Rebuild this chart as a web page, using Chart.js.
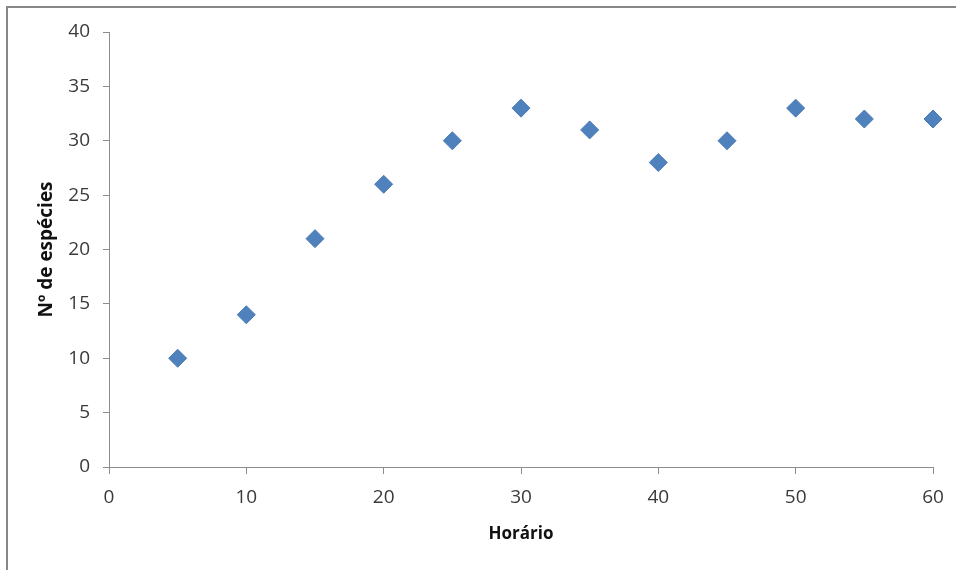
<!DOCTYPE html>
<html>
<head>
<meta charset="utf-8">
<script src="https://cdn.jsdelivr.net/npm/chart.js@4"></script>
<style>
  html, body { margin: 0; padding: 0; background: #fff; }
  #wrap { width: 956px; height: 570px; position: relative; }
</style>
</head>
<body>
<div id="wrap"><canvas id="c" width="956" height="570"></canvas></div>
<script>
// Observation time (minutes) and cumulative species count
const horario = [5, 10, 15, 20, 25, 30, 35, 40, 45, 50, 55, 60];
const especies = [10, 14, 21, 26, 30, 33, 31, 28, 30, 33, 32, 32];
const xTicks = [0, 10, 20, 30, 40, 50, 60];
const yTicks = [0, 5, 10, 15, 20, 25, 30, 35, 40];

const points = horario.map((x, i) => ({ x: x, y: especies[i] }));
const AXIS = '#8c8c8c';
const FONT = "'Open Sans', 'Liberation Sans', sans-serif";

// Frame lines along the top and left edge of the figure
const framePlugin = {
  id: 'frame',
  beforeDraw(chart) {
    const ctx = chart.ctx;
    ctx.save();
    ctx.strokeStyle = '#878787';
    ctx.lineWidth = 2;
    ctx.beginPath();
    ctx.moveTo(7, 570);
    ctx.lineTo(7, 7);
    ctx.lineTo(956, 7);
    ctx.stroke();
    ctx.restore();
  }
};

new Chart(document.getElementById('c'), {
  type: 'scatter',
  data: {
    datasets: [{
      data: points,
      pointStyle: 'rectRot',
      pointRadius: 9,
      pointHoverRadius: 9,
      backgroundColor: '#4f81bd',
      borderColor: '#4a7ab5',
      borderWidth: 1,
      clip: false
    }]
  },
  plugins: [framePlugin],
  options: {
    responsive: false,
    animation: false,
    events: [],
    layout: { padding: { left: 0, top: 32, right: 23, bottom: 0 } },
    plugins: { legend: { display: false }, tooltip: { enabled: false } },
    scales: {
      x: {
        type: 'linear',
        min: 0, max: 60,
        afterBuildTicks(s) { s.ticks = xTicks.map(v => ({ value: v })); },
        afterFit(s) { s.height = 103; },
        grid: { drawOnChartArea: false, drawTicks: true, tickLength: 7, color: AXIS, lineWidth: 1 },
        border: { color: AXIS, width: 1 },
        ticks: { color: '#3a3a3a', font: { family: FONT, size: 19 }, padding: 12, maxRotation: 0 },
        title: {
          display: true, text: 'Horário', color: '#111',
          font: { family: FONT, size: 17, weight: 'bold' },
          padding: { top: 0, bottom: 26 }
        }
      },
      y: {
        type: 'linear',
        min: 0, max: 40,
        afterBuildTicks(s) { s.ticks = yTicks.map(v => ({ value: v })); },
        afterFit(s) { s.width = 109; },
        grid: { drawOnChartArea: false, drawTicks: true, tickLength: 6, color: AXIS, lineWidth: 1 },
        border: { color: AXIS, width: 1 },
        ticks: { color: '#3a3a3a', font: { family: FONT, size: 19 }, padding: 13 },
        title: {
          display: true, text: 'Nº de espécies', color: '#111',
          font: { family: FONT, size: 19, weight: 'bold' },
          padding: { top: 35, bottom: 0 }
        }
      }
    }
  }
});
</script>
</body>
</html>
